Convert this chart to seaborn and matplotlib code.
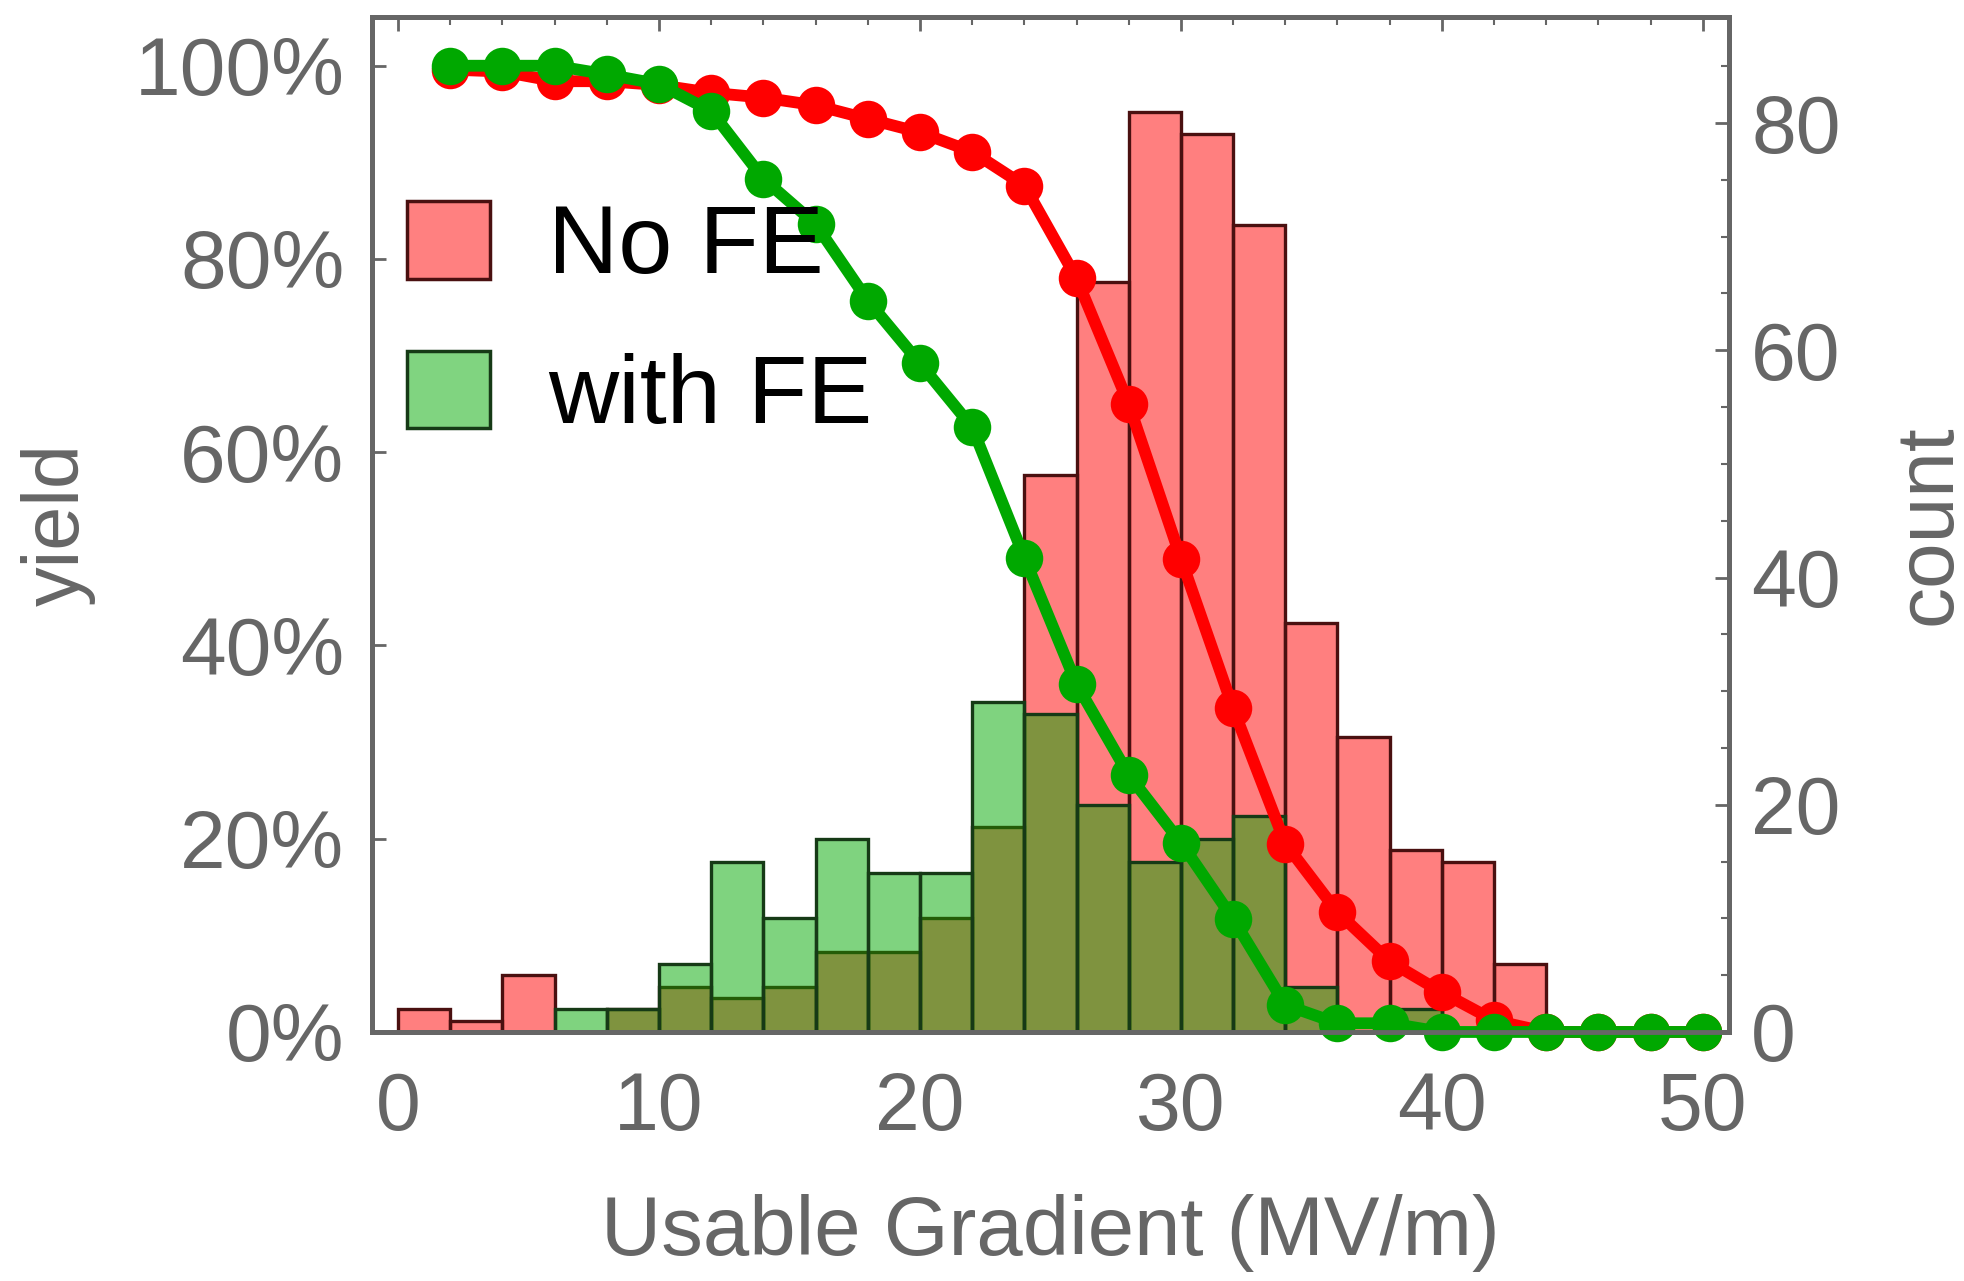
import matplotlib
matplotlib.use("Agg")
import matplotlib.pyplot as plt
from matplotlib.patches import Patch
from matplotlib.ticker import MultipleLocator, PercentFormatter
import seaborn as sns

# Histogram bins (MV/m), 2 MV/m wide
bin_edges = [0, 2, 4, 6, 8, 10, 12, 14, 16, 18, 20, 22, 24, 26, 28, 30, 32, 34, 36, 38, 40, 42, 44]
bin_centers = [1, 3, 5, 7, 9, 11, 13, 15, 17, 19, 21, 23, 25, 27, 29, 31, 33, 35, 37, 39, 41, 43]

# Cavity counts per bin
count_no_fe = [2, 1, 5, 0, 2, 4, 3, 4, 7, 7, 10, 18, 49, 66, 81, 79, 71, 36, 26, 16, 15, 6]
count_with_fe = [0, 0, 0, 2, 2, 6, 15, 10, 17, 14, 14, 29, 28, 20, 15, 17, 19, 4, 0, 2, 0, 0]

# Yield curves: fraction of cavities reaching at least the given gradient
gradient_pts = [2, 4, 6, 8, 10, 12, 14, 16, 18, 20, 22, 24, 26, 28, 30, 32, 34, 36, 38, 40,
                42, 44, 46, 48, 50]
yield_no_fe = [0.996, 0.994, 0.984, 0.984, 0.980, 0.972, 0.967, 0.959, 0.945, 0.931, 0.911,
               0.876, 0.780, 0.650, 0.490, 0.335, 0.195, 0.124, 0.073, 0.041, 0.012, 0.0, 0.0,
               0.0, 0.0]
yield_with_fe = [1.0, 1.0, 1.0, 0.991, 0.981, 0.953, 0.883, 0.836, 0.757, 0.692, 0.626, 0.491,
                 0.360, 0.266, 0.196, 0.117, 0.028, 0.009, 0.009, 0.0, 0.0, 0.0, 0.0, 0.0, 0.0]

series_labels = ["No FE", "with FE"]

sns.set_style("ticks")
plt.rcParams["font.family"] = ["Liberation Sans", "DejaVu Sans"]

GREY = "#666666"
RED = "#ff0000"
GREEN = "#00a800"
RED_FILL = (1.0, 0.0, 0.0, 0.5)
GREEN_FILL = (0.0, 0.66, 0.0, 0.5)
RED_EDGE = "#4a1010"
GREEN_EDGE = "#163a16"

fig = plt.figure(figsize=(19.64, 12.81), dpi=100)
ax = fig.add_axes([0.1894, 0.1944, 0.6909, 0.792])
ax2 = ax.twinx()

# Count histograms on the right-hand axis
for counts, fill, edge in [(count_no_fe, RED_FILL, RED_EDGE), (count_with_fe, GREEN_FILL, GREEN_EDGE)]:
    n_before = len(ax2.patches)
    sns.histplot(x=bin_centers, weights=counts, bins=bin_edges, ax=ax2,
                 color=fill[:3], alpha=1, linewidth=2.4, legend=False)
    for p in ax2.patches[n_before:]:
        p.set_alpha(None)
        p.set_facecolor(fill)
        p.set_edgecolor(edge)
        p.set_linewidth(2.4)

# Yield curves on the left-hand axis, drawn above the bars
ax.set_zorder(ax2.get_zorder() + 1)
ax.patch.set_visible(False)
for yvals, col in [(yield_no_fe, RED), (yield_with_fe, GREEN)]:
    sns.lineplot(x=gradient_pts, y=yvals, ax=ax, color=col, linewidth=8.5, marker="o",
                 markersize=27, markeredgewidth=0, legend=False)
for ln in ax.lines:
    ln.set_clip_on(False)

ax.set_xlim(-1, 51)
ax.set_ylim(0, 1.05)
ax2.set_ylim(0, 89.3)

ax.xaxis.set_major_locator(MultipleLocator(10))
ax.xaxis.set_minor_locator(MultipleLocator(2))
ax.yaxis.set_major_locator(MultipleLocator(0.2))
ax.yaxis.set_major_formatter(PercentFormatter(xmax=1, decimals=0))
ax2.yaxis.set_major_locator(MultipleLocator(20))
ax2.yaxis.set_minor_locator(MultipleLocator(5))

ax.tick_params(axis="x", which="both", direction="in", top=True, bottom=False,
               color=GREY, labelcolor=GREY, labelsize=58, pad=28)
ax.tick_params(axis="x", which="major", length=10, width=2)
ax.tick_params(axis="x", which="minor", length=6, width=1.5)
ax.tick_params(axis="y", which="major", direction="in", length=10, width=2,
               color=GREY, labelcolor=GREY, labelsize=59, pad=20, right=False)
ax2.tick_params(axis="y", which="major", direction="in", length=10, width=2,
                color=GREY, labelcolor=GREY, labelsize=58, pad=16)
ax2.tick_params(axis="y", which="minor", direction="in", length=6, width=1.5, color=GREY)

for a in (ax, ax2):
    for s in a.spines.values():
        s.set_color(GREY)
        s.set_linewidth(3.5)
        s.set_visible(True)

ax.set_xlabel("Usable Gradient (MV/m)", fontsize=60, color=GREY)
ax.set_ylabel("yield", fontsize=57, color=GREY)
ax2.set_ylabel("count", fontsize=59, color=GREY)
ax.xaxis.set_label_coords(0.5, -0.16)
ax.yaxis.set_label_coords(-0.2035, 0.5)
ax2.yaxis.set_label_coords(1.12, 0.5)

handles = [Patch(facecolor=(1.0, 0.5, 0.5), edgecolor=RED_EDGE, linewidth=2.5),
           Patch(facecolor=(0.5, 0.83, 0.5), edgecolor=GREEN_EDGE, linewidth=2.5)]
leg = ax.legend(handles, series_labels, loc="upper left", bbox_to_anchor=(0.026, 0.819),
                frameon=False, fontsize=70, handlelength=0.85, handleheight=0.85,
                handletextpad=0.6, labelspacing=0.59, borderpad=0, borderaxespad=0)
for t in leg.get_texts():
    t.set_color("black")

fig.savefig("out.png", dpi=100)
